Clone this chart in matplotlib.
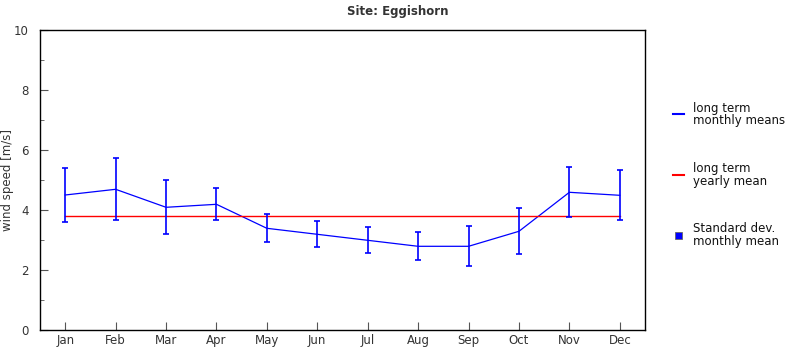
import matplotlib
matplotlib.use("Agg")
import matplotlib.pyplot as plt
from matplotlib.lines import Line2D

months = ["Jan", "Feb", "Mar", "Apr", "May", "Jun", "Jul", "Aug", "Sep", "Oct", "Nov", "Dec"]
monthly_means = [4.5, 4.69, 4.09, 4.19, 3.39, 3.19, 2.99, 2.79, 2.79, 3.29, 4.59, 4.49]
std_dev = [0.90, 1.03, 0.90, 0.53, 0.47, 0.43, 0.43, 0.47, 0.67, 0.77, 0.83, 0.83]
yearly_mean = 3.79

FS = 8.5
fig = plt.figure(figsize=(7.95, 3.5), dpi=100)
ax = fig.add_axes([40/795, 20/350, 605/795, 300/350])
x = list(range(len(months)))

ax.plot(x, monthly_means, color="blue", lw=0.9)
ax.plot([x[0], x[-1]], [yearly_mean, yearly_mean], color="red", lw=1.0)
ax.errorbar(x, monthly_means, yerr=std_dev, fmt="none", ecolor="blue",
            elinewidth=1.2, capsize=2.2, capthick=1.2)

ax.set_xlim(-0.5, 11.5)
ax.set_ylim(0, 10)
ax.set_xticks(x)
ax.set_xticklabels(months)
ax.set_yticks([0, 2, 4, 6, 8, 10])
ax.set_yticks([1, 3, 5, 7, 9], minor=True)
ax.tick_params(axis="both", which="major", direction="in", length=6, labelsize=FS,
               labelcolor="#333333", color="#555555")
ax.tick_params(axis="x", pad=3)
ax.tick_params(axis="y", pad=8)
ax.tick_params(axis="y", which="minor", direction="in", length=3, color="#555555")
for s in ax.spines.values():
    s.set_linewidth(1.0)

fig.text(7.5/795, 1 - 180/350, "wind speed [m/s]", rotation=90, ha="center", va="center",
         fontsize=FS, color="#333333")

fig.text(397.5/795, 1 - 11/350, "Site: Eggishorn", ha="center", va="center",
         fontsize=FS, fontweight="bold", color="#333333")

# legend
def leg_line(y, color):
    fig.add_artist(Line2D([673/795, 684/795], [1 - y/350, 1 - y/350], color=color, lw=1.5))

leg_line(114, "blue")
fig.text(693/795, 1 - 114.5/350, "long term\nmonthly means", ha="left", va="center",
         fontsize=FS, color="#111111", linespacing=0.95)
leg_line(175, "red")
fig.text(693/795, 1 - 175/350, "long term\nyearly mean", ha="left", va="center",
         fontsize=FS, color="#111111", linespacing=0.95)
fig.add_artist(plt.Rectangle((675/795, 1 - 239/350), 7/795, 7/350, facecolor="blue",
                             edgecolor="#666666", lw=0.6, transform=fig.transFigure))
fig.text(693/795, 1 - 235/350, "Standard dev.\nmonthly mean", ha="left", va="center",
         fontsize=FS, color="#111111", linespacing=0.95)

fig.savefig("out.png", dpi=100)
